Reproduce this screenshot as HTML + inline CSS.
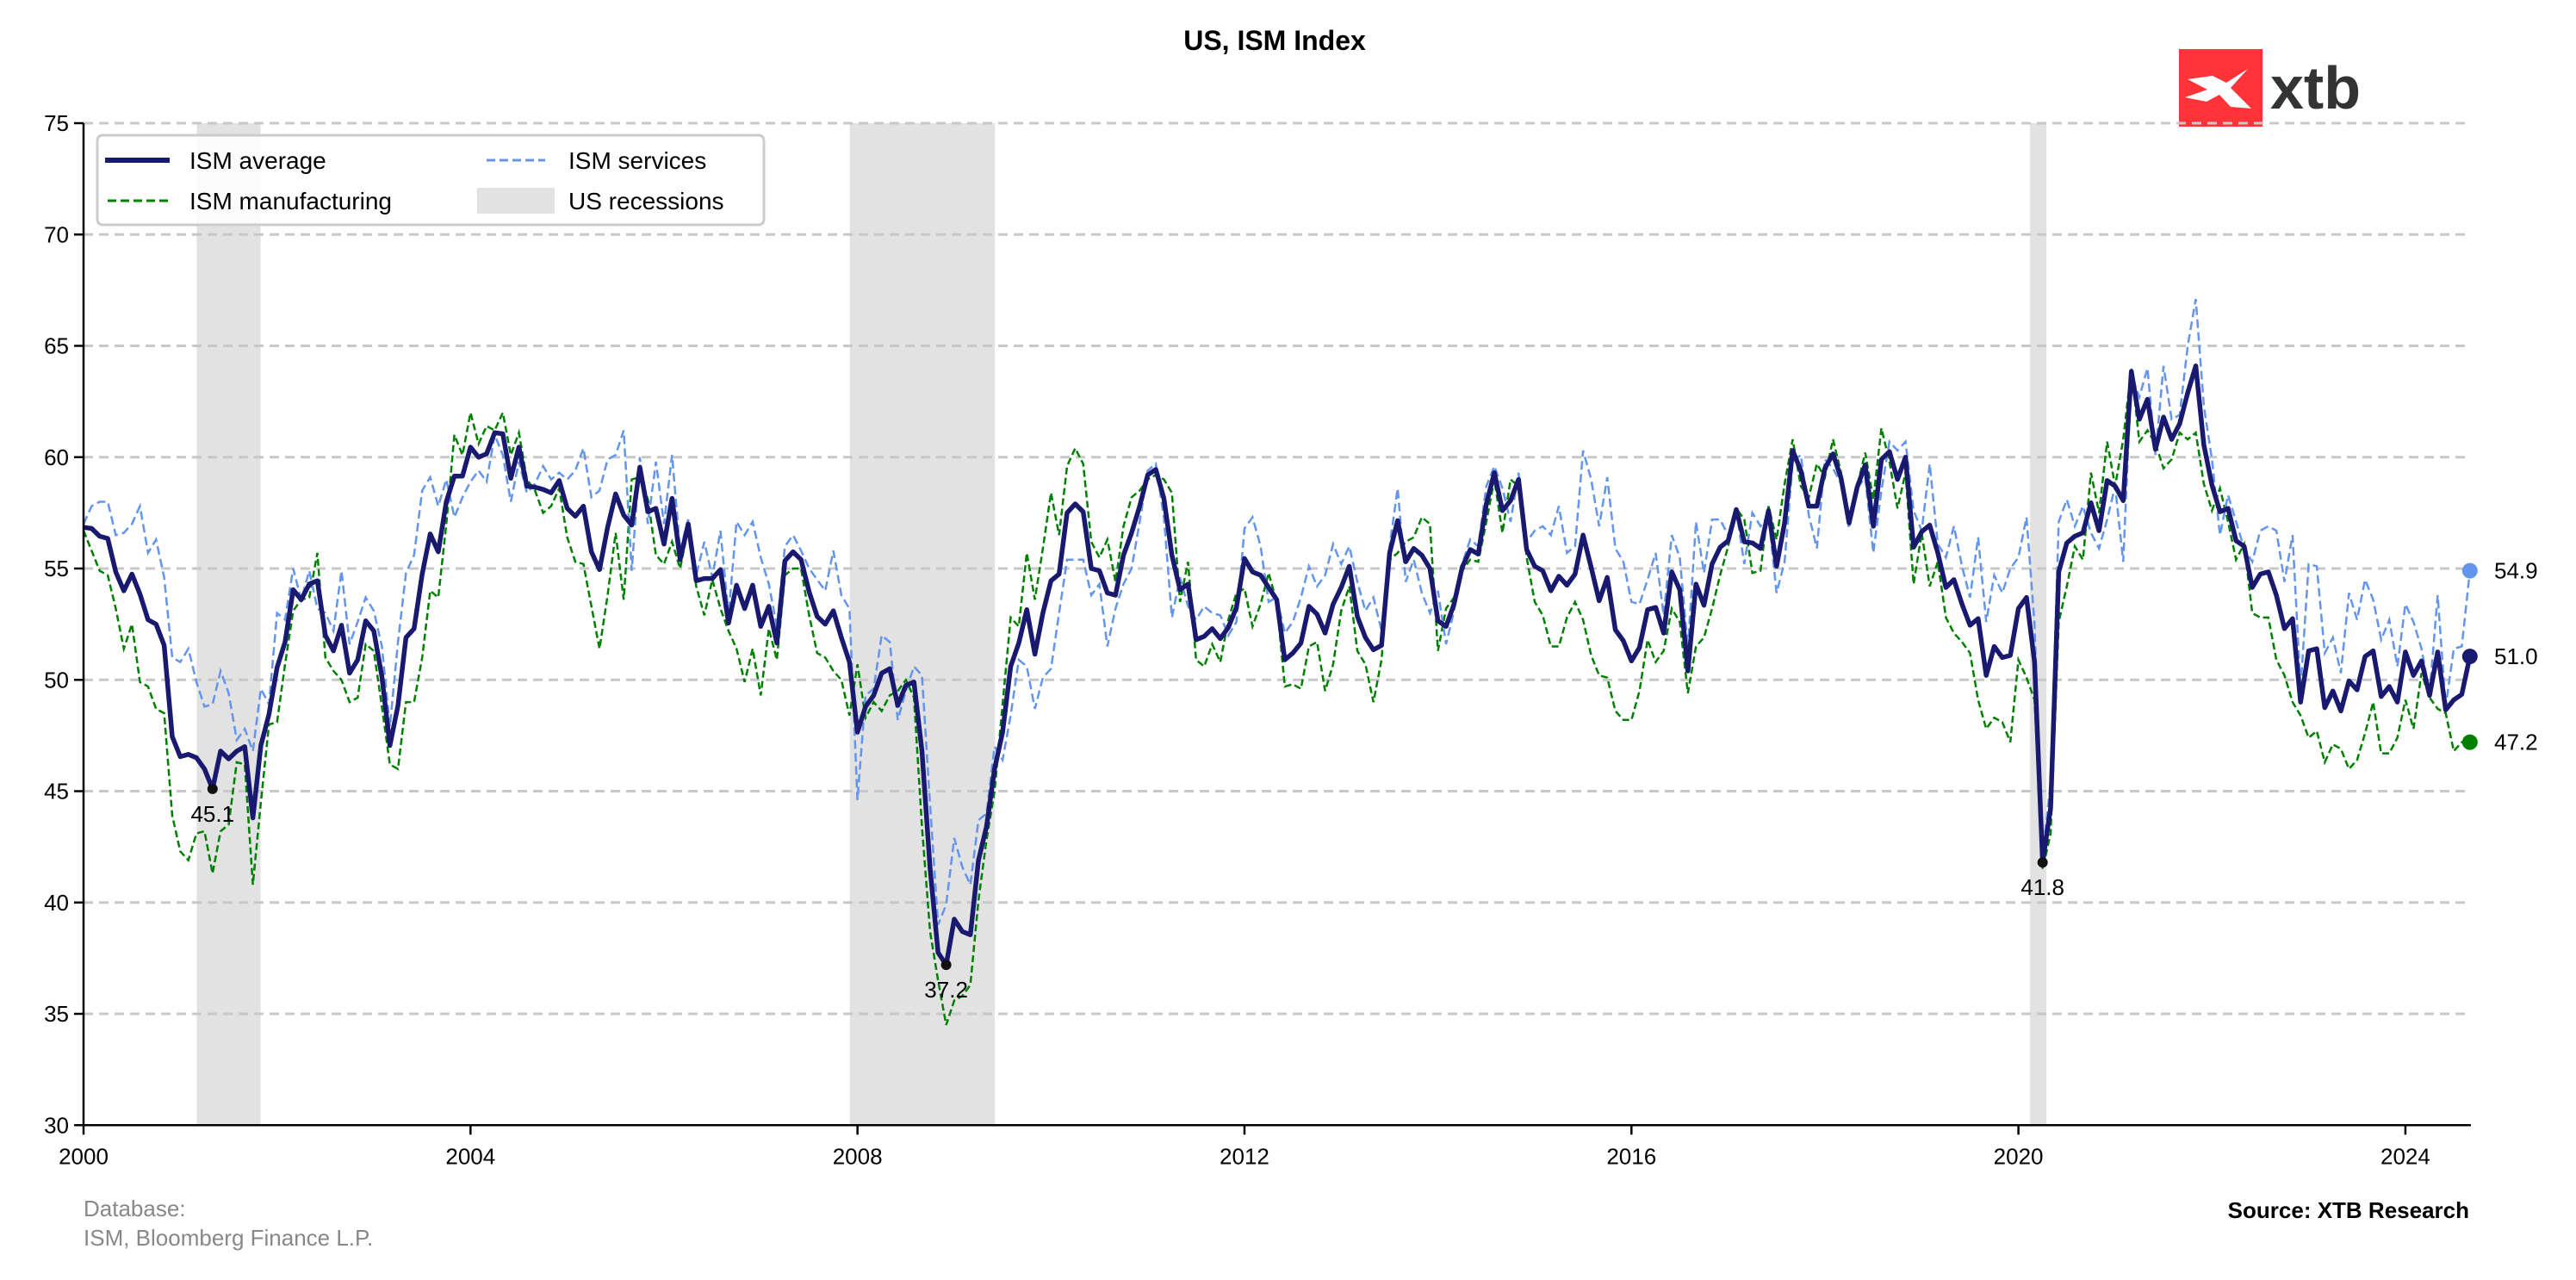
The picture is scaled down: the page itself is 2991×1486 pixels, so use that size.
<!DOCTYPE html>
<html><head><meta charset="utf-8"><style>
body{margin:0;background:#fff}
svg{display:block;font-family:"Liberation Sans",Arial,sans-serif}
</style></head><body>
<svg id="c" width="2991" height="1486" viewBox="0 0 2991 1486">
<text x="1480" y="58" text-anchor="middle" font-size="32" font-weight="bold">US, ISM Index</text>
<g>
<rect x="2530" y="57" width="97" height="90" fill="#ff3338"/>
<path d="M2540 92 L2569 88 L2585 96 L2610 80 L2590 102 L2614 126 L2590 124 L2577 110 L2562 118 L2537 113 L2563 104 Z" fill="#fff"/>
<text x="2636" y="126" font-size="70" font-weight="bold" fill="#333">xtb</text>
</g>
<g id="plot"></g>
<g>
<rect x="113" y="157" width="774" height="104" rx="6" fill="#fff" fill-opacity="0.85" stroke="#ccc" stroke-width="3"/>
<line x1="122" y1="186" x2="197" y2="186" stroke="#191970" stroke-width="6"/>
<text x="220" y="196" font-size="28">ISM average</text>
<line x1="125" y1="233" x2="195" y2="233" stroke="#008000" stroke-width="3" stroke-dasharray="10,5"/>
<text x="220" y="243" font-size="28">ISM manufacturing</text>
<line x1="565" y1="186" x2="633" y2="186" stroke="#6495ed" stroke-width="3" stroke-dasharray="10,5"/>
<text x="660" y="196" font-size="28">ISM services</text>
<rect x="554" y="218" width="90" height="30" fill="#e2e2e2"/>
<text x="660" y="243" font-size="28">US recessions</text>
</g>
<text x="97" y="1412" font-size="26" fill="#888">Database:</text>
<text x="97" y="1446" font-size="26" fill="#888">ISM, Bloomberg Finance L.P.</text>
<text x="2867" y="1414" text-anchor="end" font-size="26" font-weight="bold">Source: XTB Research</text>
</svg>
<script>
const mfg=[56.7,55.8,54.9,54.7,53.2,51.4,52.5,49.9,49.7,48.7,48.5,43.9,
42.3,41.9,43.1,43.2,41.3,43.2,43.5,46.3,46.2,40.8,44.5,48.0,
48.1,50.7,53.1,53.6,53.7,55.7,51.0,50.4,50.0,49.0,49.2,51.6,
51.3,48.8,46.2,46.0,49.0,49.0,51.0,54.0,53.7,57.0,61.0,60.1,
62.0,60.6,61.4,61.2,62.0,60.1,61.1,59.0,58.5,57.5,57.8,58.6,
56.4,55.3,55.2,53.3,51.4,53.8,56.6,53.6,59.0,59.1,58.1,55.6,
55.2,56.2,55.0,56.8,54.2,52.9,54.5,53.2,52.2,51.4,49.9,51.4,
49.3,52.3,50.9,54.7,55.0,55.0,52.9,51.2,51.0,50.4,50.0,48.4,
50.7,48.3,49.0,48.6,49.3,49.5,50.0,49.2,43.4,38.7,36.5,34.5,
35.6,35.8,36.3,40.1,42.8,45.0,48.9,52.8,52.4,55.7,53.6,55.9,
58.4,56.5,59.6,60.4,59.7,56.2,55.5,56.3,54.4,56.9,58.2,58.5,
59.0,59.2,59.0,58.4,53.5,55.3,50.9,50.6,51.6,50.8,52.7,53.9,
54.1,52.4,53.4,54.8,53.5,49.7,49.8,49.6,51.5,51.7,49.5,50.7,
53.1,54.2,51.3,50.7,49.0,50.9,55.4,55.7,56.2,56.4,57.3,57.0,
51.3,53.2,53.7,54.9,55.4,55.3,57.1,59.0,56.6,59.0,58.7,55.5,
53.5,52.9,51.5,51.5,52.8,53.5,52.7,51.1,50.2,50.1,48.6,48.2,
48.2,49.5,51.8,50.8,51.3,53.2,52.6,49.4,51.5,51.9,53.2,54.7,
56.0,57.7,57.2,54.8,54.9,57.8,56.3,58.8,60.8,58.7,58.2,59.7,
59.1,60.8,59.3,57.3,58.7,60.2,58.1,61.3,59.8,57.7,59.3,54.3,
56.6,54.2,55.3,52.8,52.1,51.7,51.2,49.1,47.8,48.3,48.1,47.2,
50.9,50.1,49.1,41.5,43.1,52.6,54.2,56.0,55.4,59.3,57.5,60.7,
58.7,60.8,64.0,60.7,61.2,60.6,59.5,59.9,61.1,60.8,61.1,58.8,
57.6,58.6,57.1,55.4,56.1,53.0,52.8,52.8,50.9,50.2,49.0,48.4,
47.4,47.7,46.3,47.1,46.9,46.0,46.4,47.6,49.0,46.7,46.7,47.4,
49.1,47.8,50.3,49.2,48.7,48.5,46.8,47.2,47.2];
const svc=[57.0,57.8,58.0,58.0,56.5,56.6,57.0,57.8,55.7,56.3,54.6,51.0,
50.8,51.4,49.9,48.8,48.9,50.4,49.4,47.3,47.8,46.8,49.6,48.9,
53.0,52.7,55.0,53.6,54.9,53.2,53.0,52.2,54.9,51.6,52.6,53.7,
53.1,51.5,47.9,51.7,54.8,55.6,58.5,59.1,57.8,59.0,57.3,58.2,
58.9,59.4,58.9,61.0,60.1,58.0,59.8,58.4,58.8,59.6,59.0,59.3,
59.0,59.4,60.4,58.2,58.5,59.9,60.1,61.2,54.9,60.0,57.0,59.8,
57.0,60.1,55.8,57.2,54.7,56.2,54.6,56.7,52.9,57.1,56.5,57.1,
55.5,54.3,52.4,56.0,56.5,55.8,55.0,54.5,54.0,55.8,53.8,53.2,
44.6,49.3,49.6,52.0,51.7,48.2,49.5,50.6,50.2,44.4,39.0,39.9,
42.9,41.6,40.8,43.7,44.0,47.0,46.4,48.4,50.9,50.6,48.7,50.1,
50.5,53.0,55.4,55.4,55.4,53.8,54.3,51.5,53.2,54.3,55.0,57.1,
59.4,59.7,57.3,52.8,54.6,53.3,52.7,53.3,53.0,52.9,52.0,52.6,
56.8,57.3,56.0,53.5,53.7,52.1,52.6,53.7,55.1,54.2,54.7,56.1,
55.2,56.0,54.4,53.1,53.7,52.2,56.0,58.6,54.4,55.4,53.9,53.0,
54.0,51.6,53.1,55.2,56.3,56.0,58.7,59.6,58.6,57.1,59.3,56.2,
56.7,56.9,56.5,57.8,55.7,56.0,60.3,59.0,56.9,59.1,55.9,55.3,
53.5,53.4,54.5,55.7,52.9,56.5,55.5,51.4,57.1,54.8,57.2,57.2,
56.5,57.6,55.2,57.5,56.9,57.4,53.9,55.3,59.8,60.1,57.4,55.9,
59.9,59.5,58.8,56.8,58.6,59.1,55.7,58.5,60.7,60.3,60.7,57.6,
56.7,59.7,56.1,55.5,56.9,55.1,53.7,56.4,52.6,54.7,53.9,55.0,
55.5,57.3,52.5,42.1,45.4,57.1,58.1,56.9,57.8,56.6,55.9,57.2,
58.7,55.3,63.7,62.7,64.0,60.1,64.1,61.7,61.9,65.0,67.1,62.3,
59.9,56.5,58.3,57.1,55.9,55.3,56.7,56.9,56.7,54.4,56.5,49.6,
55.2,55.1,51.2,51.9,50.3,53.9,52.7,54.5,53.6,51.8,52.7,50.6,
53.4,52.6,51.4,49.4,53.8,48.8,51.4,51.5,54.9];
const yTicks=[30,35,40,45,50,55,60,65,70,75];
const xTicks=[2000,2004,2008,2012,2016,2020,2024];
const recStart=[2001.17,2007.92,2020.12];
const recEnd=[2001.83,2009.42,2020.29];
const minIdx=[16,107,243];

const NS="http://www.w3.org/2000/svg";
const X=t=>97+(t-2000)*112.33, Y=v=>143+(75-v)*25.85;
const T=i=>2000+i/12;
const g=document.getElementById('plot');
function mk(tag,a,p){const e=document.createElementNS(NS,tag);for(const k in a)e.setAttribute(k,a[k]);(p||g).appendChild(e);return e;}
const avg=mfg.map((m,i)=>(m+svc[i])/2);
recStart.forEach((s,i)=>{const r=mk('rect',{x:X(s),y:Y(75),width:X(recEnd[i])-X(s),height:Y(30)-Y(75),fill:'#e2e2e2'});

});
yTicks.forEach(v=>{
 if(v>30){const l=mk('line',{x1:97,x2:2869,y1:Y(v),y2:Y(v),stroke:'#c8c8c8','stroke-width':3,'stroke-dasharray':'11,7'});
 
 }
 mk('line',{x1:86,x2:97,y1:Y(v),y2:Y(v),stroke:'#000','stroke-width':2.5});
 const t=mk('text',{x:80,y:Y(v)+9,'text-anchor':'end','font-size':26});t.textContent=v;
 
 
});
xTicks.forEach(v=>{
 mk('line',{x1:X(v),x2:X(v),y1:Y(30),y2:Y(30)+11,stroke:'#000','stroke-width':2.5});
 const t=mk('text',{x:X(v),y:Y(30)+45,'text-anchor':'middle','font-size':26});t.textContent=v;
 
 
});
function path(arr){return arr.map((v,i)=>(i?'L':'M')+X(T(i)).toFixed(1)+' '+Y(v).toFixed(1)).join(' ');}
const pm=mk('path',{d:path(mfg),fill:'none',stroke:'#008000','stroke-width':2.5,'stroke-dasharray':'8,4'});


const ps=mk('path',{d:path(svc),fill:'none',stroke:'#6495ed','stroke-width':2.5,'stroke-dasharray':'10,5'});


const pa=mk('path',{d:path(avg),fill:'none',stroke:'#191970','stroke-width':5.5,'stroke-linejoin':'round'});


mk('line',{x1:97,x2:97,y1:Y(75),y2:Y(30),stroke:'#000','stroke-width':2.5});
mk('line',{x1:97,x2:2869,y1:Y(30),y2:Y(30),stroke:'#000','stroke-width':2.5});
minIdx.forEach(i=>{
 const c=mk('circle',{cx:X(T(i)),cy:Y(avg[i]),r:6,fill:'#111'});
 
 
 const t=mk('text',{x:X(T(i)),y:Y(avg[i])+38,'text-anchor':'middle','font-size':26});t.textContent=avg[i].toFixed(1);
 
 
});
const n=mfg.length-1;
[[svc,'#6495ed'],[avg,'#191970'],[mfg,'#008000']].forEach(([a,col])=>{
 const c=mk('circle',{cx:X(T(n)),cy:Y(a[n]),r:9,fill:col});
 
 
 const t=mk('text',{x:2896,y:Y(a[n])+9,'font-size':26});t.textContent=a[n].toFixed(1);
 
 
});
</script>
</body></html>
